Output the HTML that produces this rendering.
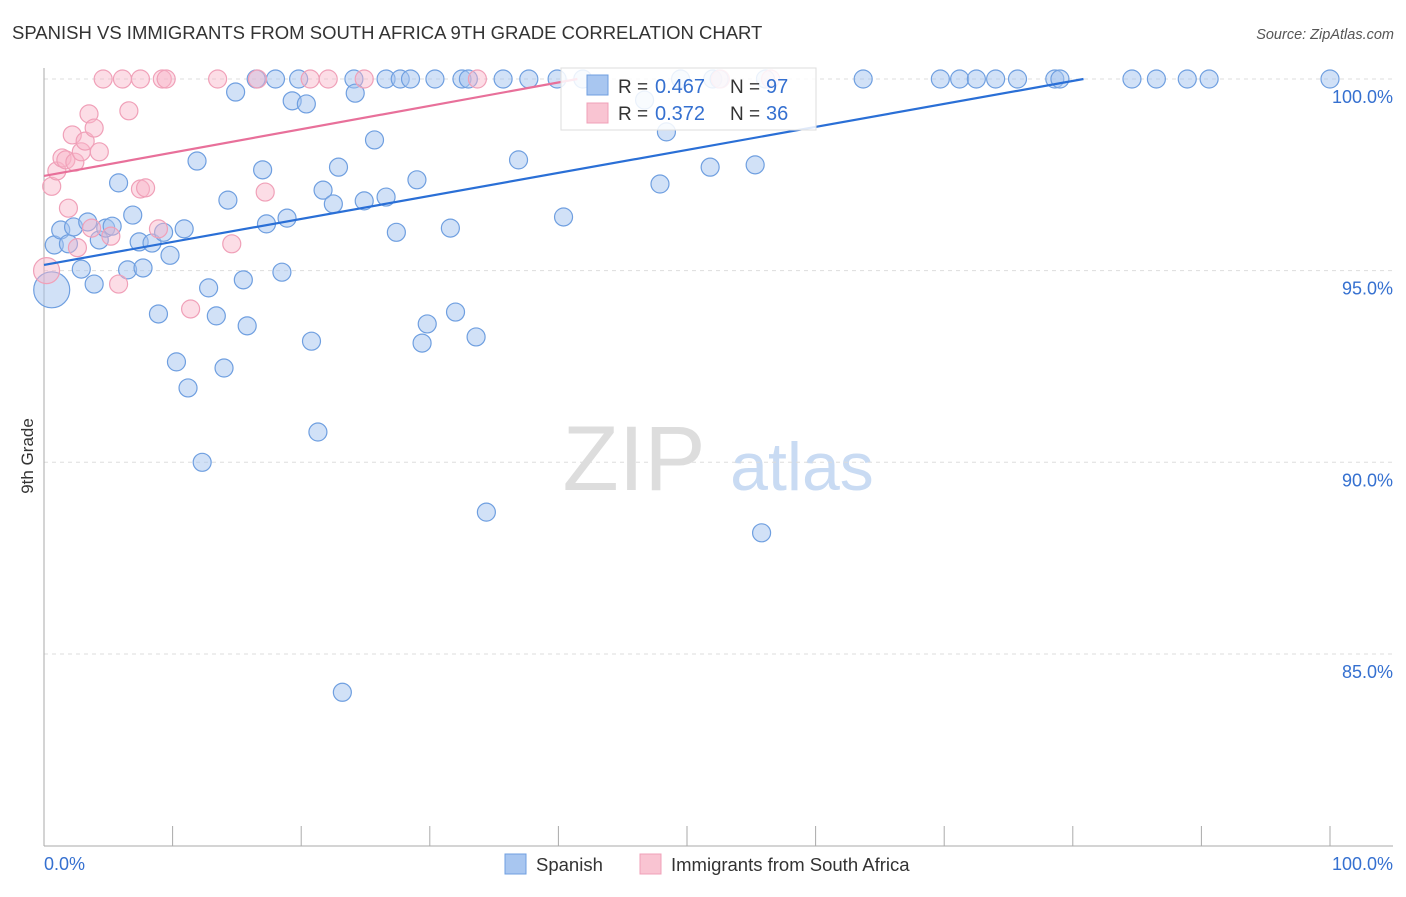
<!DOCTYPE html>
<html><head><meta charset="utf-8"><style>
body{margin:0;background:#fff;font-family:"Liberation Sans",sans-serif}
svg text{font-family:"Liberation Sans",sans-serif}
</style></head><body>
<svg id="chart" width="1406" height="892" viewBox="0 0 1406 892">
<text x="12" y="39" font-size="18.5" fill="#333">SPANISH VS IMMIGRANTS FROM SOUTH AFRICA 9TH GRADE CORRELATION CHART</text>
<text x="1394" y="39" font-size="14.5" fill="#555" text-anchor="end" font-style="italic">Source: ZipAtlas.com</text>
<text transform="translate(33,456) rotate(-90)" font-size="17" fill="#333" text-anchor="middle">9th Grade</text>
<g>
<text x="634" y="490" font-size="92" fill="#ddd" font-family="Liberation Serif" text-anchor="middle">ZIP</text>
<text x="802" y="490" font-size="68" fill="#c9dbf3" text-anchor="middle">atlas</text>
</g>
<g id="grid"></g><g id="axes"></g><g id="pts"></g><g id="lines"></g>
<g>
<rect x="561" y="68" width="255" height="62" fill="rgba(255,255,255,0.85)" stroke="#ddd"/>
<rect x="587" y="75" width="21" height="20" fill="#a8c6f0" stroke="#6f9fe0"/>
<rect x="587" y="103" width="21" height="20" fill="#f9c4d2" stroke="#f0a0b8"/>
<text x="618" y="93" font-size="19" fill="#333">R = </text>
<text x="655" y="93" font-size="20" fill="#3570d0">0.467</text>
<text x="730" y="93" font-size="19" fill="#333">N = </text>
<text x="766" y="93" font-size="20" fill="#3570d0">97</text>
<text x="618" y="120" font-size="19" fill="#333">R = </text>
<text x="655" y="120" font-size="20" fill="#3570d0">0.372</text>
<text x="730" y="120" font-size="19" fill="#333">N = </text>
<text x="766" y="120" font-size="20" fill="#3570d0">36</text>
</g>
<g>
<rect x="505" y="854" width="21" height="20" fill="#a8c6f0" stroke="#6f9fe0"/>
<text x="536" y="871" font-size="18.5" fill="#333">Spanish</text>
<rect x="640" y="854" width="21" height="20" fill="#f9c4d2" stroke="#f0a0b8"/>
<text x="671" y="871" font-size="18.5" fill="#333">Immigrants from South Africa</text>
</g>
<text x="44" y="870" font-size="18" fill="#3570d0">0.0%</text>
<text x="1393" y="870" font-size="18" fill="#3570d0" text-anchor="end">100.0%</text>
</svg>
<script>
const yTicks=[100,95,90,85];
const yTickLabels=["100.0%","95.0%","90.0%","85.0%"];
const xTicks=[0,10,20,30,40,50,60,70,80,90,100];
const spanishX=[0.6,0.8,1.3,1.9,2.3,2.9,3.4,3.9,4.3,4.8,5.3,5.8,6.5,6.9,7.4,7.7,8.4,8.9,9.3,9.8,10.3,10.9,11.2,11.9,12.3,12.8,13.4,14.0,14.3,14.9,15.5,15.8,16.5,17.0,17.3,18.0,18.5,18.9,19.3,19.8,20.4,20.8,21.3,21.7,22.5,22.9,23.2,24.1,24.2,24.9,25.7,26.6,26.6,27.4,27.7,28.5,29.0,29.4,29.8,30.4,31.6,32.0,32.5,33.0,33.6,34.4,35.7,36.9,37.7,39.9,40.4,41.9,46.7,47.9,48.4,49.5,51.8,52.0,52.5,55.3,55.8,56.1,63.7,69.7,71.2,72.5,74.0,75.7,78.6,79.0,84.6,86.5,88.9,90.6,100];
const spanishY=[94.5,95.67,96.06,95.7,96.14,95.04,96.27,94.65,95.8,96.11,96.16,97.29,95.02,96.45,95.75,95.07,95.72,93.87,96.0,95.4,92.62,96.09,91.94,97.86,90.0,94.55,93.82,92.46,96.84,99.66,94.76,93.56,100,97.63,96.22,100,94.96,96.37,99.43,100,99.35,93.16,90.79,97.1,96.74,97.7,84.0,100,99.63,96.82,98.41,100,96.92,96.0,100,100,97.37,93.11,93.61,100,96.11,93.92,100,100,93.27,88.7,100,97.89,100,100,96.4,100,99.45,97.26,98.62,100,97.7,100,100,97.76,88.16,100,100,100,100,100,100,100,100,100,100,100,100,100,100];
const africaX=[0.2,0.6,1.0,1.4,1.7,1.9,2.2,2.4,2.9,3.2,3.5,3.9,4.3,3.7,4.6,5.2,5.8,6.1,6.6,7.5,7.5,7.9,8.9,9.2,9.5,11.4,13.5,14.6,16.6,17.2,20.7,22.1,24.9,33.7,52.6,56.5,2.6];
const africaY=[95.0,97.2,97.6,97.94,97.89,96.63,98.54,97.83,98.1,98.38,99.09,98.72,98.1,96.11,100,95.9,94.65,100,99.17,100,97.13,97.16,96.09,100,100,94.0,100,95.7,100,97.05,100,100,100,100,100,100,95.6];
const spanishTrend=[95.15,0.06];
const africaTrend=[97.47,0.061];
const X=v=>44+v*12.86, Y=v=>79+(100-v)*38.33;
const NS='http://www.w3.org/2000/svg';
function mk(t,a,p){const e=document.createElementNS(NS,t);for(const k in a)e.setAttribute(k,a[k]);p.appendChild(e);return e;}
const grid=document.getElementById('grid'),axes=document.getElementById('axes'),pts=document.getElementById('pts'),lines=document.getElementById('lines');
yTicks.forEach((t,i)=>{
 const l=mk('line',{x1:44,x2:1393,y1:Y(t),y2:Y(t),stroke:'#ddd','stroke-dasharray':'4,4'},grid);
 
 
 const tx=mk('text',{x:1393,y:Y(t)+24,'font-size':18,fill:'#3570d0','text-anchor':'end'},grid);
 tx.textContent=yTickLabels[i];
 
 
});
const ya=mk('line',{x1:44,x2:44,y1:68,y2:846,stroke:'#aaa'},axes);


const xa=mk('line',{x1:44,x2:1393,y1:846,y2:846,stroke:'#aaa'},axes);


xTicks.forEach(t=>{const l=mk('line',{x1:X(t),x2:X(t),y1:826,y2:846,stroke:'#aaa'},axes);
 
 });
function draw(xs,ys,fill,stroke,name){xs.forEach((x,i)=>{
 const r=(i===0&&name==='spanish-point')?18:(i===0?13:9);
 const c=mk('circle',{cx:X(x),cy:Y(ys[i]),r:r,fill:fill,stroke:stroke,'stroke-width':1.2},pts);
 
 });}
draw(spanishX,spanishY,'rgba(164,196,240,0.5)','#6f9fe0','spanish-point');
draw(africaX,africaY,'rgba(248,180,200,0.45)','#f0a0b8','south-africa-point');
function trend(tr,col,name){const xe=Math.min(100,(100-tr[0])/tr[1]);
 const l=mk('line',{x1:X(0),y1:Y(tr[0]),x2:X(xe),y2:Y(tr[0]+tr[1]*xe),stroke:col,'stroke-width':2.2},lines);
 
 }
trend(spanishTrend,'#2a6fd6','spanish-trend-line');
trend(africaTrend,'#e8709a','south-africa-trend-line');
</script>
</body></html>
